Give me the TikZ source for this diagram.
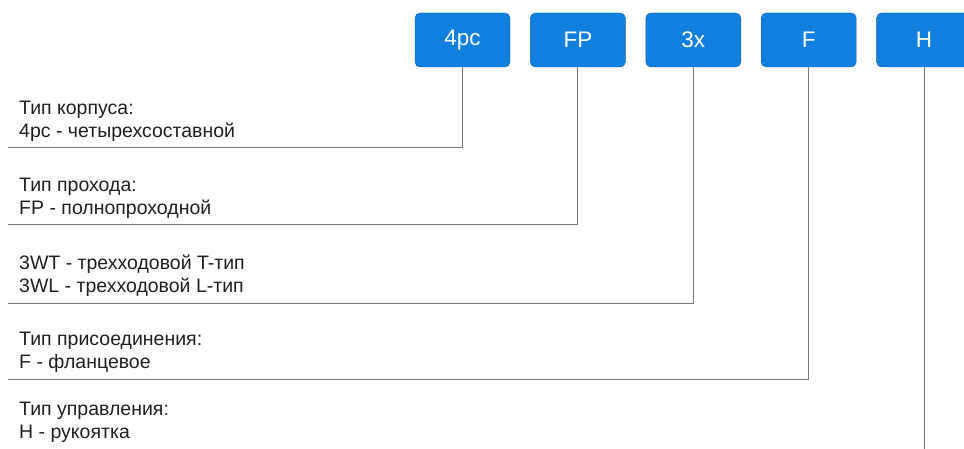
\documentclass[tikz,border=0pt]{standalone}
\usepackage{fontspec}
\setmainfont{Liberation Sans}
\usetikzlibrary{positioning}
\definecolor{codeblue}{RGB}{16,127,222}
\definecolor{codeedge}{RGB}{22,96,170}
\definecolor{leadgray}{RGB}{120,120,120}
\tikzset{
    code-box/.style = {draw=codeedge, fill=codeblue, text=white, rectangle, rounded corners=5pt, minimum width=95pt, minimum height=54pt, font=\fontsize{22.5}{26}\selectfont},
    caption-text/.style = {align=left, inner sep=0pt, text=black!88, font=\fontsize{19.5}{23.5}\selectfont},
    leader-line/.style = {draw=leadgray, line width=1pt},
}

\begin{document}
\begin{tikzpicture}[x=1pt, y=-1pt]
\useasboundingbox (0,0) rectangle (964,449);
% code boxes along the top
\node [code-box] (body) at (462.5,40) {4pc};
\node [code-box, right=20pt of body] (bore) {FP};
\node [code-box, right=20pt of bore] (ways) {3x};
\node [code-box, right=20pt of ways] (ends) {F};
\node [code-box, right=20pt of ends] (oper) {H};
% left ends of the leader lines
\coordinate (body-end) at (8,148);
\coordinate (bore-end) at (8,225);
\coordinate (ways-end) at (8,303);
\coordinate (ends-end) at (8,379);
\coordinate (oper-end) at (oper.south |- 0,449);
\draw [leader-line] (body.south) |- (body-end);
\draw [leader-line] (bore.south) |- (bore-end);
\draw [leader-line] (ways.south) |- (ways-end);
\draw [leader-line] (ends.south) |- (ends-end);
\draw [leader-line] (oper.south) -- (oper-end);
% captions
\node [caption-text, above right=6pt and 11pt of body-end] (body-text) {Тип корпуса:\\4pc - четырехсоставной};
\node [caption-text, above right=6pt and 11pt of bore-end] (bore-text) {Тип прохода:\\FP - полнопроходной};
\node [caption-text, above right=6pt and 11pt of ways-end] (ways-text) {3WT - трехходовой T-тип\\3WL - трехходовой L-тип};
\node [caption-text, above right=6pt and 11pt of ends-end] (ends-text) {Тип присоединения:\\F - фланцевое};
\node [caption-text, anchor=south west] (oper-text) at (19,443) {Тип управления:\\H - рукоятка};
\end{tikzpicture}
\end{document}
